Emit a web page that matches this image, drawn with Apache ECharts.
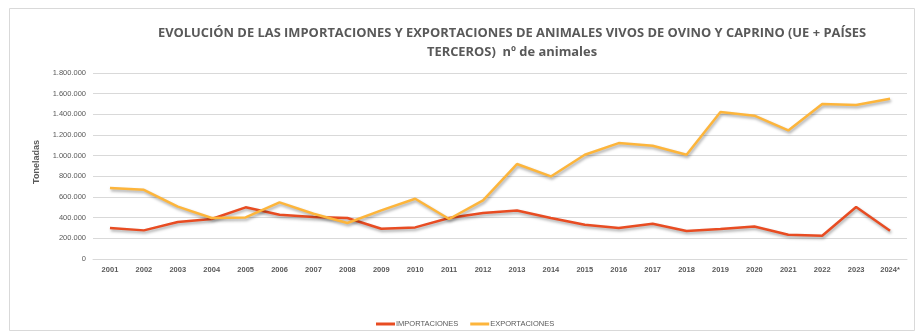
<!DOCTYPE html>
<html>
<head>
<meta charset="utf-8">
<script src="https://cdn.jsdelivr.net/npm/echarts@6/dist/echarts.min.js"></script>
<style>
  html, body { margin: 0; padding: 0; background: #fff; }
  #chart { width: 917px; height: 333px; }
</style>
</head>
<body>
<div id="chart"></div>
<script>
// Years shown on the category axis
const years = ['2001','2002','2003','2004','2005','2006','2007','2008','2009','2010','2011','2012',
               '2013','2014','2015','2016','2017','2018','2019','2020','2021','2022','2023','2024*'];

// Live sheep and goat imports (number of animals)
const importaciones = [300000, 277000, 358000, 387000, 500000, 429000, 406000, 397000, 293000, 306000, 397000, 445000,
                       470000, 397000, 332000, 300000, 341000, 271000, 290000, 315000, 235000, 225000, 503000, 274000];

// Live sheep and goat exports (number of animals)
const exportaciones = [687000, 670000, 507000, 397000, 402000, 548000, 438000, 348000, 470000, 583000, 387000, 567000,
                       919000, 799000, 1009000, 1122000, 1096000, 1009000, 1422000, 1387000, 1244000, 1500000, 1490000, 1551000];

const seriesNames = ['IMPORTACIONES', 'EXPORTACIONES'];
const yTicks = { min: 0, max: 1800000, interval: 200000 };

const fmtThousands = v => String(v).replace(/\B(?=(\d{3})+(?!\d))/g, '.');

const chart = echarts.init(document.getElementById('chart'), null, { renderer: 'canvas' });

const lineShadow = { shadowColor: 'rgba(0,0,0,0.35)', shadowBlur: 3, shadowOffsetX: 1, shadowOffsetY: 2 };

chart.setOption({
  animation: false,
  backgroundColor: '#ffffff',
  graphic: [
    {
      type: 'rect',
      shape: { x: 9.5, y: 8.5, width: 905, height: 322 },
      style: { fill: 'none', stroke: '#d9d9d9', lineWidth: 1 },
      silent: true
    },
    {
      // vertical axis caption
      type: 'text',
      x: 37,
      y: 162,
      rotation: Math.PI / 2,
      style: {
        text: 'Toneladas',
        fontFamily: 'Liberation Sans',
        fontSize: 9,
        fontWeight: 'bold',
        fill: '#595959',
        align: 'center',
        verticalAlign: 'middle'
      },
      silent: true
    }
  ],
  title: {
    text: '{b|EVOLUCIÓN DE LAS IMPORTACIONES Y EXPORTACIONES DE ANIMALES VIVOS DE OVINO Y CAPRINO (UE + PAÍSES}\n{b|TERCEROS)  nº de animales}',
    left: 507,
    top: 19,
    textAlign: 'center',
    textStyle: {
      rich: {
        b: { fontFamily: 'Open Sans', fontWeight: 'bold', fontSize: 12.9, color: '#595959', lineHeight: 19, align: 'center' }
      }
    }
  },
  legend: {
    data: seriesNames,
    left: 376,
    top: 320,
    icon: 'rect',
    itemWidth: 19,
    itemHeight: 3,
    itemGap: 12,
    padding: 0,
    textStyle: { fontFamily: 'Liberation Sans', fontSize: 7.5, color: '#595959', padding: [0, 0, 0, -4] }
  },
  grid: { left: 93, right: 10, top: 73, bottom: 74, containLabel: false },
  xAxis: {
    type: 'category',
    data: years,
    boundaryGap: true,
    axisLine: { show: true, lineStyle: { color: '#d9d9d9', width: 1 } },
    axisTick: { show: false },
    axisLabel: { fontFamily: 'Liberation Sans', fontSize: 7.5, fontWeight: 'bold', color: '#595959', margin: 7, interval: 0 }
  },
  yAxis: {
    type: 'value',
    min: yTicks.min,
    max: yTicks.max,
    interval: yTicks.interval,
    axisLine: { show: false },
    axisTick: { show: false },
    splitLine: { lineStyle: { color: '#d9d9d9', width: 1 } },
    axisLabel: { fontFamily: 'Liberation Sans', fontSize: 7.5, color: '#595959', margin: 7, formatter: fmtThousands }
  },
  series: [
    {
      name: seriesNames[0],
      type: 'line',
      data: importaciones,
      symbol: 'none',
      color: '#E84C22',
      lineStyle: Object.assign({ color: '#E84C22', width: 2.5 }, lineShadow)
    },
    {
      name: seriesNames[1],
      type: 'line',
      data: exportaciones,
      symbol: 'none',
      color: '#FDB53B',
      lineStyle: Object.assign({ color: '#FDB53B', width: 2.5 }, lineShadow)
    }
  ]
});
</script>
</body>
</html>
